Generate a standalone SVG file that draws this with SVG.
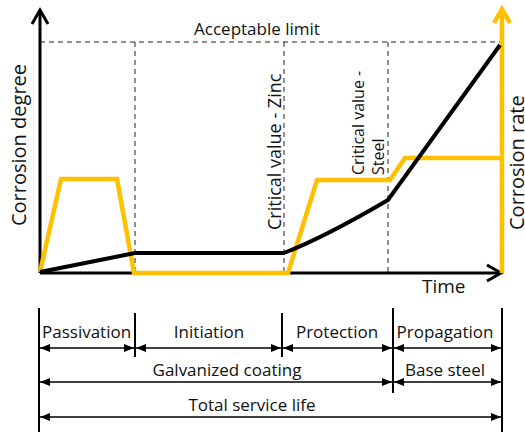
<svg xmlns="http://www.w3.org/2000/svg" width="525" height="432" viewBox="0 0 525 432">
<defs>
<style>
text{font-family:"Open Sans","Noto Sans","DejaVu Sans",sans-serif;font-size:17px;fill:#111}
.big{font-size:20px}
.cz{font-size:18px}
.cs{font-size:16px}
.dash{stroke:#222;stroke-width:1;stroke-dasharray:5,4;fill:none}
.axis{stroke:#000;stroke-width:3;fill:none}
.yel{stroke:#FFC000;stroke-width:4.5;fill:none;stroke-linejoin:miter}
.blk{stroke:#000;stroke-width:4;fill:none}
.dim{stroke:#000;stroke-width:1.5;fill:none;marker-start:url(#tri);marker-end:url(#tri)}
.tick{stroke:#000;stroke-width:2;fill:none}
.mid{text-anchor:middle}
</style>
<marker id="tri" viewBox="0 0 10 8" refX="10" refY="4" markerWidth="10" markerHeight="8" markerUnits="userSpaceOnUse" orient="auto-start-reverse">
<path d="M0,0 L10,4 L0,8 Z" fill="#000"/>
</marker>
</defs>
<g id="grid">
<line class="dash" x1="40" y1="42" x2="501" y2="42"/>
<line class="dash" x1="135" y1="42" x2="135" y2="273"/>
<line class="dash" x1="284" y1="42" x2="284" y2="273"/>
<line class="dash" x1="388" y1="42" x2="388" y2="273"/>
</g>
<g id="axes">
<line class="axis" x1="40" y1="273" x2="40" y2="10"/>
<polyline class="axis" points="32,24 40,10 48,24"/>
<line class="axis" x1="40" y1="273" x2="500" y2="273"/>
<polyline class="axis" points="487,265 501,273 487,281"/>
</g>
<g id="curves">
<polyline class="yel" points="40,272 61,179 117,179 134,273 288,273 317,180 390,180 405,158 502,158"/>
<line class="yel" x1="502" y1="273" x2="502" y2="9"/>
<polyline class="yel" points="494,23 502,9 510,23"/>
<path class="blk" d="M40,272 L135,253 L284,253 Q325,237 388,200 L500,45"/>
</g>
<g id="labels">
<text class="mid" x="257" y="35">Acceptable limit</text>
<text class="mid big" transform="translate(26,145) rotate(-90)">Corrosion degree</text>
<text class="big" transform="translate(524,230) rotate(-90)">Corrosion rate</text>
<text class="cz" transform="translate(281,230) rotate(-90)">Critical value - Zinc</text>
<text class="cs" transform="translate(364,175) rotate(-90)">Critical value -</text>
<text class="cs" transform="translate(384,175) rotate(-90)">Steel</text>
<text x="422" y="293" style="font-size:19px">Time</text>
</g>
<g id="timeline">
<line class="tick" x1="39" y1="308" x2="39" y2="432"/>
<line class="tick" x1="135" y1="313" x2="135" y2="357"/>
<line class="tick" x1="282" y1="313" x2="282" y2="357"/>
<line class="tick" x1="393" y1="308" x2="393" y2="393"/>
<line class="tick" x1="502" y1="308" x2="502" y2="432"/>
<line class="dim" x1="40" y1="348" x2="134" y2="348"/>
<line class="dim" x1="136" y1="348" x2="281" y2="348"/>
<line class="dim" x1="283" y1="348" x2="392" y2="348"/>
<line class="dim" x1="394" y1="348" x2="501" y2="348"/>
<line class="dim" x1="40" y1="382" x2="392" y2="382"/>
<line class="dim" x1="394" y1="382" x2="501" y2="382"/>
<line class="dim" x1="40" y1="417" x2="501" y2="417"/>
<text x="42" y="338">Passivation</text>
<text class="mid" x="209" y="338">Initiation</text>
<text class="mid" x="337" y="338">Protection</text>
<text class="mid" x="445" y="338">Propagation</text>
<text class="mid" x="227" y="376">Galvanized coating</text>
<text class="mid" x="445" y="376">Base steel</text>
<text class="mid" x="252" y="411">Total service life</text>
</g>
</svg>
